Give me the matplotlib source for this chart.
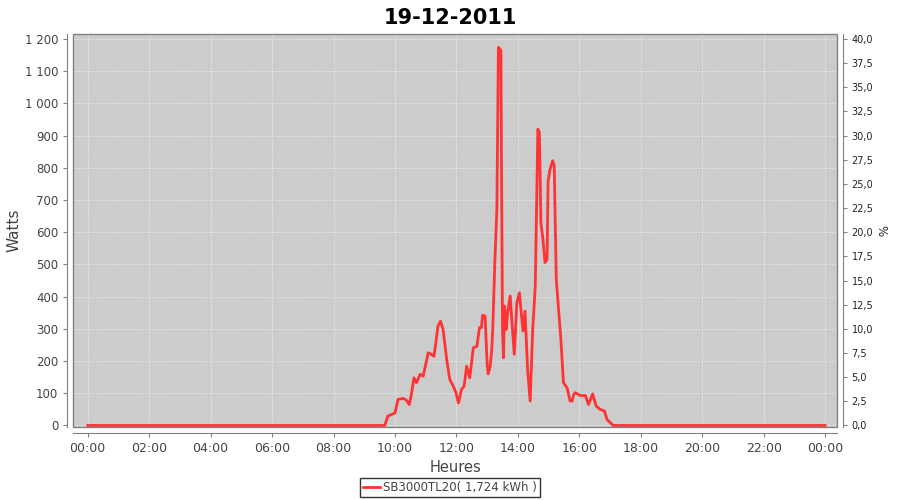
import matplotlib
matplotlib.use('Agg')
import matplotlib.pyplot as plt
from matplotlib.patches import Rectangle
from matplotlib.ticker import FuncFormatter, MultipleLocator

title = '19-12-2011'
series_name = 'SB3000TL20( 1,724 kWh )'

times = ["00:00", "09:40", "09:46", "09:53", "10:00", "10:06", "10:16", "10:22",
         "10:28", "10:32", "10:37", "10:42", "10:49", "10:55", "11:05", "11:11",
         "11:16", "11:19", "11:24", "11:29", "11:34", "11:41", "11:47", "11:54",
         "11:59", "12:04", "12:10", "12:15", "12:20", "12:26", "12:33", "12:40",
         "12:45", "12:49", "12:51", "12:56", "13:00", "13:02", "13:06", "13:09",
         "13:11", "13:13", "13:15", "13:19", "13:22", "13:27", "13:28", "13:30",
         "13:32", "13:34", "13:37", "13:40", "13:45", "13:48", "13:53", "13:58",
         "14:03", "14:10", "14:14", "14:19", "14:24", "14:29", "14:34", "14:39",
         "14:42", "14:45", "14:49", "14:53", "14:57", "14:59", "15:03", "15:08",
         "15:11", "15:15", "15:19", "15:24", "15:29", "15:36", "15:42", "15:46",
         "15:49", "15:52", "16:02", "16:12", "16:18", "16:26", "16:33", "16:41",
         "16:49", "16:54", "17:01", "17:06", "24:00"]
watts = [0, 0, 29, 34, 39, 81, 84, 79,
         65, 96, 148, 133, 159, 153, 226, 221,
         215, 247, 309, 324, 298, 205, 143, 122,
         102, 70, 112, 122, 184, 148, 241, 246,
         304, 304, 342, 340, 190, 160, 184, 236,
         300, 402, 506, 671, 1174, 1164, 817, 298,
         210, 371, 298, 350, 402, 330, 221, 381,
         412, 293, 355, 174, 76, 298, 433, 920,
         910, 630, 578, 506, 516, 759, 796, 822,
         806, 454, 371, 267, 133, 117, 76, 76,
         96, 102, 93, 93, 65, 98, 60, 50,
         45, 19, 8, 0, 0]

hour_ticks = list(range(0, 25, 2))
hour_labels = [f"{h % 24:02d}:00" for h in hour_ticks]

hours = [int(t[:2]) + int(t[3:]) / 60 for t in times]

fig = plt.figure(figsize=(9, 5), dpi=100)
ax = fig.add_axes([0.0811, 0.146, 0.849, 0.7854])
ax.set_facecolor('#cccccc')

line, = ax.plot(hours, watts, color='#ff3333', lw=2.0, label=series_name, zorder=3)

ax.set_xlim(-0.48, 24.39)
ax.set_ylim(-4.7, 1214.6)
ax.set_xticks(hour_ticks)
ax.set_xticklabels(hour_labels)
ax.yaxis.set_major_locator(MultipleLocator(100))
ax.yaxis.set_major_formatter(FuncFormatter(lambda v, p: f"{int(v):,}".replace(',', ' ')))
ax.grid(True, color='#f4f4f4', ls=(0, (2, 2)), lw=0.5)

axis_grey = '#808080'
for side in ['left', 'bottom']:
    ax.spines[side].set_position(('outward', 4))
    ax.spines[side].set_color(axis_grey)
for side in ['top', 'right']:
    ax.spines[side].set_visible(False)
ax.add_patch(Rectangle((0, 0), 1, 1, transform=ax.transAxes, fill=False,
                       edgecolor=axis_grey, lw=1, zorder=4, clip_on=False))
ax.tick_params(axis='both', colors=axis_grey, length=3, labelcolor='#444444')
ax.tick_params(axis='y', labelsize=8.5)
ax.tick_params(axis='x', labelsize=9)
ax.set_xlabel('Heures', fontsize=10.5, color='#444444', labelpad=4)
ax.set_ylabel('Watts', fontsize=11, color='#444444')
ax.yaxis.set_label_coords(-0.067, 0.5)

ax2 = ax.twinx()
ax2.set_ylim(-4.7 / 30, 1214.6 / 30)
ax2.yaxis.set_major_locator(MultipleLocator(2.5))
ax2.yaxis.set_major_formatter(FuncFormatter(lambda v, p: f"{v:.1f}".replace('.', ',')))
for side in ['left', 'top', 'bottom']:
    ax2.spines[side].set_visible(False)
ax2.spines['right'].set_position(('outward', 4))
ax2.spines['right'].set_color(axis_grey)
ax2.tick_params(axis='y', colors=axis_grey, length=3, labelcolor='#222222', labelsize=7)
ax2.set_ylabel('%', fontsize=8.5, rotation=270, labelpad=10, color='#222222')

fig.suptitle(title, fontsize=15, fontweight='bold', y=0.985)

leg = fig.legend(handles=[line], loc='center', bbox_to_anchor=(0.5, 0.025), fontsize=8.5,
                 frameon=True, fancybox=False, handlelength=1.4, handletextpad=0.3,
                 borderpad=0.25, borderaxespad=0)
leg.get_frame().set_edgecolor('black')
leg.get_frame().set_linewidth(1)
for t in leg.get_texts():
    t.set_color('#444444')

fig.savefig('out.png', dpi=100)
